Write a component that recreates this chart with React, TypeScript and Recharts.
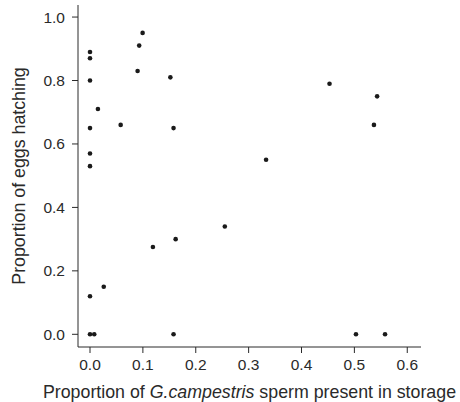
import { Label, Scatter, ScatterChart, XAxis, YAxis } from "recharts"

// proportion of G.campestris sperm in storage (x) vs proportion of eggs hatching (y)
const spermProportion = [
  0, 0, 0, 0.015, 0, 0, 0, 0.058, 0.09, 0.093, 0.0995, 0.152, 0.158,
  0.333, 0.453, 0.543, 0.537,
  0, 0, 0.008, 0.026, 0.119, 0.162, 0.158, 0.255, 0.503, 0.558,
]
const hatchProportion = [
  0.89, 0.87, 0.8, 0.71, 0.65, 0.57, 0.53, 0.66, 0.83, 0.91, 0.95, 0.81, 0.65,
  0.55, 0.79, 0.75, 0.66,
  0.12, 0, 0, 0.15, 0.275, 0.3, 0, 0.34, 0, 0,
]
const xTicks = [0, 0.1, 0.2, 0.3, 0.4, 0.5, 0.6]
const yTicks = [0, 0.2, 0.4, 0.6, 0.8, 1.0]

const points = spermProportion.map((x, i) => ({ x, y: hatchProportion[i] }))

const INK = "#2a2a2a"
const FONT = "'Liberation Sans', Arial, sans-serif"

const Dot = (props: { cx?: number; cy?: number }) => {
  if (props.cx === undefined || props.cy === undefined) return null
  return <circle cx={props.cx} cy={props.cy} r={2.3} fill="#1a1a1a" />
}

export default function App() {
  return (
    <div style={{ position: "absolute", left: 0, top: 0, width: 460, height: 402, background: "#fff" }}>
      <ScatterChart width={460} height={402} margin={{ top: 5, right: 39, bottom: 0, left: 0 }}>
        <XAxis
          type="number"
          dataKey="x"
          domain={[-0.0227, 0.626]}
          allowDataOverflow
          ticks={xTicks}
          tickFormatter={(v) => Number(v).toFixed(1)}
          height={55}
          tickSize={6}
          tickMargin={6}
          stroke={INK}
          tick={{ fill: INK, fontSize: 15.5, fontFamily: FONT }}
        >
          <Label
            content={(props: unknown) => {
              const { viewBox } = props as { viewBox?: { x: number; y: number; width: number } }
              if (!viewBox) return null
              return (
                <text
                  x={viewBox.x + viewBox.width / 2}
                  y={viewBox.y + 51}
                  textAnchor="middle"
                  fontSize={17.8}
                  fontFamily={FONT}
                  fill={INK}
                >
                  Proportion of <tspan fontStyle="italic">G.campestris</tspan> sperm present in storage
                </text>
              )
            }}
          />
        </XAxis>
        <YAxis
          type="number"
          dataKey="y"
          domain={[-0.04, 1.038]}
          allowDataOverflow
          ticks={yTicks}
          tickFormatter={(v) => Number(v).toFixed(1)}
          width={78}
          tickSize={6}
          tickMargin={7}
          stroke={INK}
          tick={{ fill: INK, fontSize: 15.5, fontFamily: FONT }}
        >
          <Label
            content={(props: unknown) => {
              const { viewBox } = props as { viewBox?: { x: number; y: number; height: number } }
              if (!viewBox) return null
              const cx = viewBox.x + 25
              const cy = viewBox.y + viewBox.height / 2
              return (
                <text
                  x={cx}
                  y={cy}
                  transform={`rotate(-90, ${cx}, ${cy})`}
                  textAnchor="middle"
                  fontSize={17.8}
                  fontFamily={FONT}
                  fill={INK}
                >
                  Proportion of eggs hatching
                </text>
              )
            }}
          />
        </YAxis>
        <Scatter data={points} shape={<Dot />} isAnimationActive={false} />
      </ScatterChart>
    </div>
  )
}
